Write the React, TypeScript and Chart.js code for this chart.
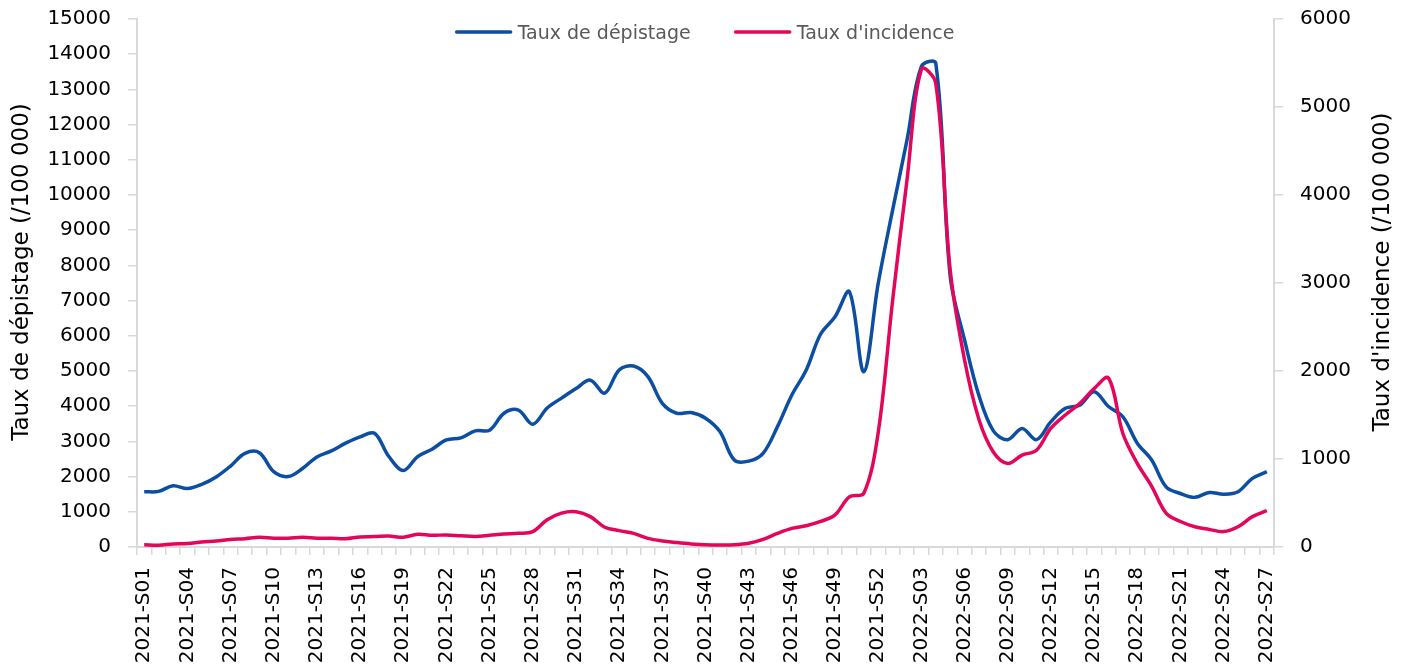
import React, { useEffect, useRef } from 'react';
import { Chart, registerables } from 'chart.js';

Chart.register(...registerables);

const FONT = "'DejaVu Sans', sans-serif";

// Categories: ISO weeks 2021-S01 … 2022-S27
const weeks: string[] = [];
for (let w = 1; w <= 52; w++) weeks.push(`2021-S${String(w).padStart(2, '0')}`);
for (let w = 1; w <= 27; w++) weeks.push(`2022-S${String(w).padStart(2, '0')}`);

const labelEvery = 3;

const leftTitle = 'Taux de dépistage (/100 000)';
const rightTitle = "Taux d'incidence (/100 000)";
const seriesNames = ['Taux de dépistage', "Taux d'incidence"];

const leftTicks = { min: 0, max: 15000, step: 1000 };
const rightTicks = { min: 0, max: 6000, step: 1000 };

const depistage: number[] = [
  1570, 1580, 1740, 1660, 1780, 1990, 2300, 2660, 2680, 2140,
  2000, 2230, 2560, 2730, 2950, 3130, 3230, 2570, 2170, 2570,
  2780, 3040, 3100, 3300, 3320, 3800, 3890, 3490, 3950, 4230,
  4500, 4740, 4370, 5030, 5140, 4840, 4080, 3800, 3820, 3660,
  3280, 2470, 2440, 2660, 3420, 4320, 5030, 6050, 6540, 7250,
  4980, 7490, 9570, 11560, 13650, 13740, 7700, 5880, 4300, 3300,
  3050, 3370, 3050, 3560, 3940, 4030, 4410, 3990, 3700, 2950,
  2470, 1710, 1520, 1410, 1550, 1500, 1570, 1950, 2140,
];

const incidence: number[] = [
  25, 20, 35, 40, 57, 68, 85, 95, 110, 100,
  100, 110, 100, 100, 95, 115, 118, 125, 110, 145,
  133, 137, 128, 120, 133, 148, 155, 175, 310, 385,
  400, 345, 225, 186, 155, 98, 68, 50, 35, 25,
  23, 25, 42, 87, 155, 212, 242, 290, 365, 570,
  610, 1300, 2800, 4170, 5430, 5270, 3150, 2125, 1450, 1080,
  950, 1045, 1100, 1350, 1500, 1630, 1800, 1920, 1290, 950,
  690, 385, 290, 230, 200, 175, 230, 345, 413,
];

const BLUE = '#0B4EA2';
const RED = '#E3065A';
const AXIS = '#D9D9D9';

const legendPlugin = {
  id: 'topLegend',
  afterDatasetsDraw(chart: any) {
    const { ctx, chartArea } = chart;
    ctx.save();
    ctx.font = `19px ${FONT}`;
    const lineLen = 54;
    const gap = 7;
    const spacing = 45;
    const items = chart.data.datasets.map((ds: any) => ({
      label: ds.label,
      color: ds.borderColor,
      w: ctx.measureText(ds.label).width,
    }));
    const total =
      items.reduce((s: number, it: any) => s + lineLen + gap + it.w, 0) +
      spacing * (items.length - 1);
    let x = (chartArea.left + chartArea.right) / 2 - total / 2;
    const y = 32;
    ctx.textAlign = 'left';
    ctx.textBaseline = 'alphabetic';
    for (const it of items) {
      ctx.strokeStyle = it.color;
      ctx.lineWidth = 3.5;
      ctx.lineCap = 'round';
      ctx.beginPath();
      ctx.moveTo(x, y);
      ctx.lineTo(x + lineLen, y);
      ctx.stroke();
      x += lineLen + gap;
      ctx.fillStyle = '#595959';
      ctx.fillText(it.label, x, y + 7);
      x += it.w + spacing;
    }
    ctx.restore();
  },
};

// Vertical axis titles, both reading bottom-to-top as in the reference
const axisTitlePlugin = {
  id: 'axisTitles',
  afterDraw(chart: any) {
    const { ctx, chartArea, width } = chart;
    const cy = (chartArea.top + chartArea.bottom) / 2 - 11;
    ctx.save();
    ctx.font = `23px ${FONT}`;
    ctx.fillStyle = '#000';
    ctx.textAlign = 'center';
    ctx.textBaseline = 'middle';
    const draw = (text: string, x: number) => {
      ctx.save();
      ctx.translate(x, cy);
      ctx.rotate(-Math.PI / 2);
      ctx.fillText(text, 0, 0);
      ctx.restore();
    };
    draw(leftTitle, 22);
    draw(rightTitle, width - 24);
    ctx.restore();
  },
};

const plain = (v: any) => String(v);

const fixVertical = (w: number) => (s: any) => {
  s.width = w;
  s.paddingTop = 12;
  s.paddingBottom = 12;
};

export default function App() {
  const ref = useRef<HTMLCanvasElement>(null);

  useEffect(() => {
    document.body.style.margin = '0';
    if (!ref.current) return;
    const chart = new Chart(ref.current, {
      type: 'line',
      data: {
        labels: weeks,
        datasets: [
          {
            label: seriesNames[0],
            data: depistage,
            borderColor: BLUE,
            backgroundColor: BLUE,
            borderWidth: 3.5,
            pointRadius: 0,
            tension: 0.35,
            yAxisID: 'y',
            order: 1,
          },
          {
            label: seriesNames[1],
            data: incidence,
            borderColor: RED,
            backgroundColor: RED,
            borderWidth: 3.5,
            pointRadius: 0,
            tension: 0.35,
            yAxisID: 'y1',
            order: 0,
          },
        ],
      },
      options: {
        responsive: false,
        animation: false,
        layout: { padding: { top: 19, left: 0, right: 0, bottom: 0 } },
        plugins: {
          legend: { display: false },
          tooltip: { enabled: false },
        },
        scales: {
          x: {
            offset: true,
            grid: {
              offset: true,
              drawOnChartArea: false,
              drawTicks: true,
              tickLength: 8,
              color: AXIS,
              lineWidth: 1.5,
            },
            border: { display: true, color: AXIS, width: 2 },
            ticks: {
              autoSkip: false,
              maxRotation: 90,
              minRotation: 90,
              padding: 12,
              color: '#000',
              font: { family: FONT, size: 20 },
              callback: (_v: any, i: number) => (i % labelEvery === 0 ? weeks[i] : ''),
            },
            afterFit: (s: any) => {
              s.height = 121;
            },
          },
          y: {
            position: 'left',
            min: leftTicks.min,
            max: leftTicks.max,
            ticks: {
              stepSize: leftTicks.step,
              padding: 17,
              color: '#000',
              font: { family: FONT, size: 20 },
              callback: plain,
            },
            grid: {
              drawOnChartArea: false,
              drawTicks: true,
              tickLength: 9,
              color: AXIS,
              lineWidth: 1.5,
            },
            border: { display: true, color: AXIS, width: 2 },
            afterFit: fixVertical(137),
          },
          y1: {
            position: 'right',
            min: rightTicks.min,
            max: rightTicks.max,
            ticks: {
              stepSize: rightTicks.step,
              padding: 17,
              color: '#000',
              font: { family: FONT, size: 20 },
              callback: plain,
            },
            grid: {
              drawOnChartArea: false,
              drawTicks: true,
              tickLength: 9,
              color: AXIS,
              lineWidth: 1.5,
            },
            border: { display: true, color: AXIS, width: 2 },
            afterFit: fixVertical(133),
          },
        },
      },
      plugins: [legendPlugin, axisTitlePlugin],
    });
    return () => chart.destroy();
  }, []);

  return (
    <div style={{ width: 1407, height: 668 }}>
      <canvas ref={ref} width={1407} height={668} style={{ display: 'block' }} />
    </div>
  );
}
